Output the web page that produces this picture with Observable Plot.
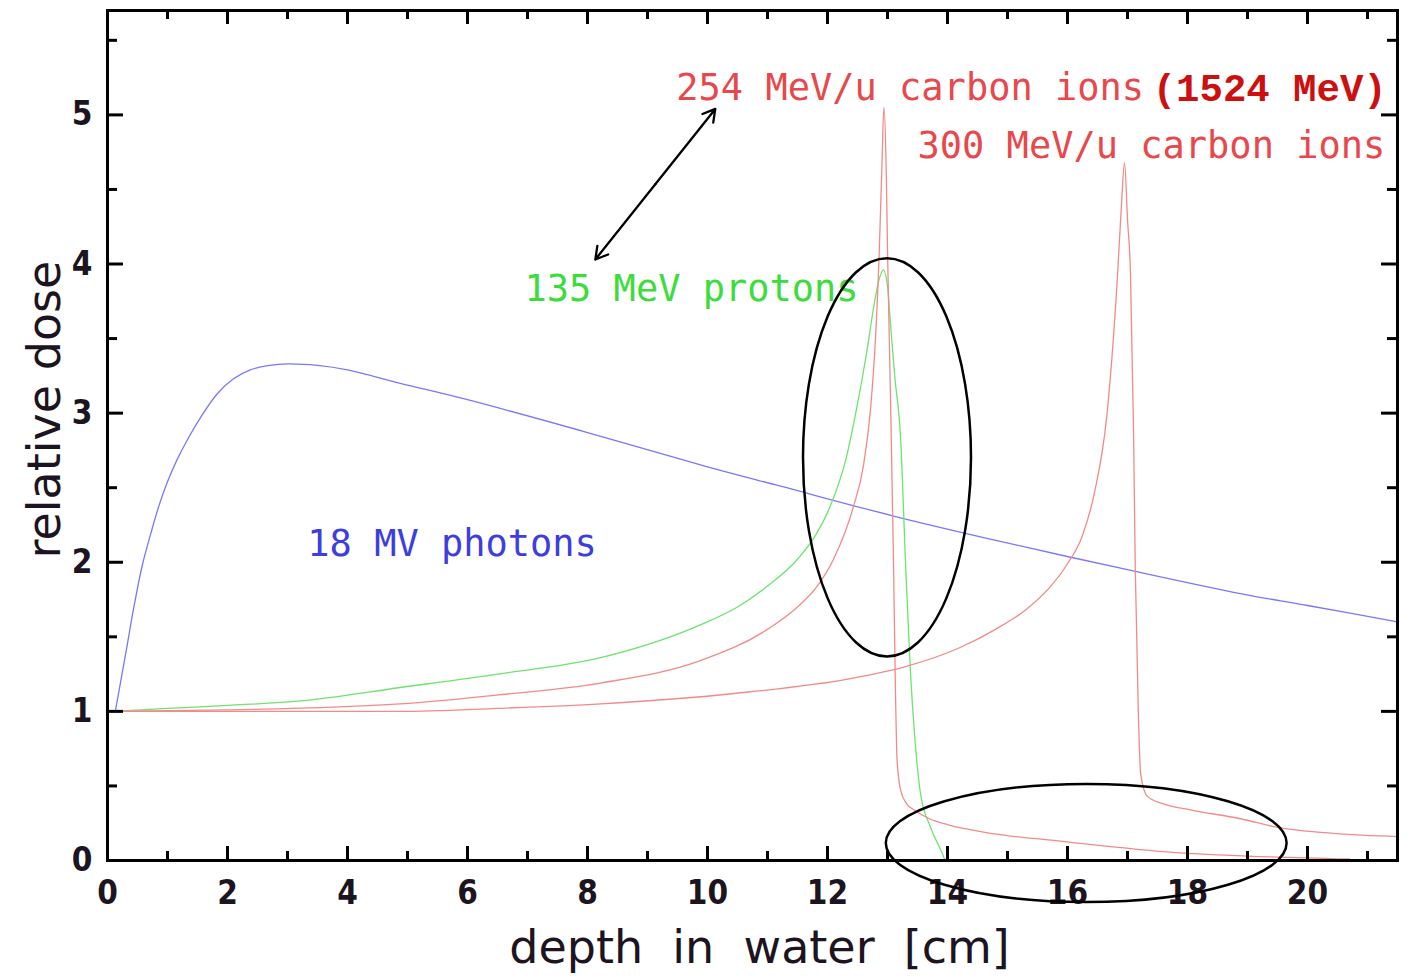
<!DOCTYPE html>
<html>
<head>
<meta charset="utf-8">
<script src="https://cdn.jsdelivr.net/npm/d3@7"></script>
<script src="https://cdn.jsdelivr.net/npm/@observablehq/plot@0.6"></script>
<style>
  html, body { margin: 0; padding: 0; background: #ffffff; }
  #chart svg { display: block; }
</style>
</head>
<body>
<div id="chart"></div>
<script>
// ---------- tick values ----------
const xMajorTicks = [0, 2, 4, 6, 8, 10, 12, 14, 16, 18, 20];
const xMinorTicks = [1, 3, 5, 7, 9, 11, 13, 15, 17, 19, 21];
const yMajorTicks = [0, 1, 2, 3, 4, 5];
const yMinorTicks = [0.5, 1.5, 2.5, 3.5, 4.5, 5.5];

// ---------- series: 18 MV photons ----------
const photonX = [0.13, 0.3, 0.44, 0.58, 0.72, 0.85, 0.99, 1.15, 1.33, 1.55, 1.83, 2.1, 2.38, 2.7, 3.0, 3.5, 4.0, 4.88, 6.0, 8.0, 10.0, 11.22, 13.1, 14.88, 17.0, 18.88, 20.0, 21.5];
const photonY = [1.0, 1.38, 1.70, 1.98, 2.19, 2.37, 2.53, 2.68, 2.82, 2.97, 3.13, 3.23, 3.29, 3.32, 3.33, 3.32, 3.29, 3.20, 3.09, 2.87, 2.64, 2.51, 2.31, 2.14, 1.95, 1.79, 1.71, 1.60];

// ---------- series: 135 MeV protons ----------
const protonX = [0.1, 1.0, 2.0, 3.22, 4.88, 6.5, 8.22, 9.88, 10.5, 11.0, 11.5, 11.8, 12.05, 12.3, 12.49, 12.65, 12.77, 12.85, 12.93, 13.0, 13.05, 13.12, 13.22, 13.3, 13.38, 13.46, 13.55, 13.72, 13.91, 13.96];
const protonY = [1.0, 1.02, 1.04, 1.07, 1.16, 1.25, 1.36, 1.58, 1.70, 1.84, 2.02, 2.18, 2.38, 2.68, 3.04, 3.40, 3.71, 3.88, 3.96, 3.85, 3.60, 3.25, 2.82, 2.0, 1.28, 0.80, 0.45, 0.22, 0.05, 0.0];

// ---------- series: 254 MeV/u carbon ions ----------
const carbon254X = [0.1, 2.0, 4.88, 6.5, 8.22, 9.88, 11.0, 11.5, 11.83, 12.1, 12.43, 12.6, 12.72, 12.8, 12.86, 12.91, 12.94, 12.98, 13.0, 13.05, 13.1, 13.13, 13.16, 13.22, 13.32, 13.44, 13.7, 14.0, 14.76, 15.88, 16.8, 17.75, 19.0, 20.7];
const carbon254Y = [1.0, 1.01, 1.05, 1.11, 1.19, 1.34, 1.55, 1.70, 1.84, 2.02, 2.37, 2.65, 3.04, 3.50, 4.05, 4.70, 5.05, 4.60, 4.10, 3.10, 2.0, 1.20, 0.67, 0.47, 0.38, 0.34, 0.28, 0.24, 0.18, 0.13, 0.09, 0.055, 0.03, 0.01];

// ---------- series: 300 MeV/u carbon ions ----------
const carbon300X = [0.1, 2.0, 4.88, 6.5, 8.22, 10.44, 12.38, 13.3, 14.22, 14.8, 15.3, 15.7, 16.0, 16.25, 16.44, 16.66, 16.83, 16.9, 16.95, 17.0, 17.05, 17.1, 17.13, 17.18, 17.22, 17.33, 17.6, 18.05, 18.88, 19.53, 20.5, 21.5];
const carbon300Y = [1.0, 1.0, 1.0, 1.02, 1.05, 1.12, 1.22, 1.30, 1.43, 1.55, 1.68, 1.83, 1.99, 2.18, 2.45, 3.0, 3.90, 4.40, 4.68, 4.30, 3.93, 2.90, 1.95, 1.0, 0.58, 0.43, 0.38, 0.34, 0.28, 0.22, 0.18, 0.16];

// ---------- annotations ----------
const labelTexts = ["254 MeV/u carbon ions", "300 MeV/u carbon ions", "135 MeV protons", "18 MV photons"];
const labelX = [9.48, 13.5, 6.95, 3.33];
const labelY = [5.18, 4.79, 3.83, 2.12];
const labelColors = ["#e8474b", "#e8474b", "#3ddc3d", "#3d3de0"];
const extraText = ["(1524 MeV)"];
const extraX = [17.42];
const extraY = [5.18];

const arrowStart = [8.13, 4.03];
const arrowEnd = [10.13, 5.04];

const ellipseCX = [13.0, 16.32];
const ellipseCY = [2.70, 0.114];
const ellipseRX = [1.40, 3.34];
const ellipseRY = [1.335, 0.396];

const xTitle = "depth\u00a0 in\u00a0 water\u00a0 [cm]";
const yTitle = "relative dose";

// ---------- build tables ----------
const zip = (xs, ys) => xs.map((x, i) => ({x, y: ys[i]}));
const photons = zip(photonX, photonY);
const protons = zip(protonX, protonY);
const c254 = zip(carbon254X, carbon254Y);
const c300 = zip(carbon300X, carbon300Y);
const labels = labelTexts.map((t, i) => ({t, x: labelX[i], y: labelY[i], c: labelColors[i]}));
const extras = extraText.map((t, i) => ({t, x: extraX[i], y: extraY[i]}));
const mid = [(arrowStart[0] + arrowEnd[0]) / 2, (arrowStart[1] + arrowEnd[1]) / 2];

const W = 1409, H = 976;
const mL = 107, mR = 12, mT = 10, mB = 116;
const innerW = W - mL - mR, innerH = H - mT - mB;

const monoFont = "'DejaVu Sans Mono', 'Liberation Mono', monospace";
const tickFont = "'DejaVu Sans Condensed', 'DejaVu Sans', sans-serif";

const ellipseMark = (index, scales) => {
  const g = d3.create("svg:g");
  for (let i = 0; i < ellipseCX.length; i++) {
    const cx = scales.x(ellipseCX[i]);
    const cy = scales.y(ellipseCY[i]);
    const rx = Math.abs(scales.x(ellipseCX[i] + ellipseRX[i]) - cx);
    const ry = Math.abs(scales.y(ellipseCY[i] + ellipseRY[i]) - cy);
    g.append("ellipse")
      .attr("cx", cx).attr("cy", cy).attr("rx", rx).attr("ry", ry)
      .attr("fill", "none").attr("stroke", "#000").attr("stroke-width", 2.5);
  }
  return g.node();
};

const tickStroke = {stroke: "#000", strokeWidth: 3};

const chart = Plot.plot({
  width: W,
  height: H,
  marginLeft: mL,
  marginRight: mR,
  marginTop: mT,
  marginBottom: mB,
  x: {domain: [0, 21.5]},
  y: {domain: [0, 5.7]},
  style: {background: "#fff", overflow: "visible"},
  marks: [
    // curves
    Plot.line(photons, {x: "x", y: "y", stroke: "#7878ff", strokeWidth: 1.3, curve: "catmull-rom"}),
    Plot.line(protons, {x: "x", y: "y", stroke: "#6ee36e", strokeWidth: 1.3, curve: "monotone-x"}),
    Plot.line(c254, {x: "x", y: "y", stroke: "#f28a8a", strokeWidth: 1.3, curve: "monotone-x"}),
    Plot.line(c300, {x: "x", y: "y", stroke: "#f28a8a", strokeWidth: 1.3, curve: "monotone-x"}),

    // inward ticks: bottom & top
    Plot.tickX(xMajorTicks, {x: d => d, insetTop: innerH - 14, ...tickStroke}),
    Plot.tickX(xMinorTicks, {x: d => d, insetTop: innerH - 9, ...tickStroke}),
    Plot.tickX(xMajorTicks, {x: d => d, insetBottom: innerH - 14, ...tickStroke}),
    Plot.tickX(xMinorTicks, {x: d => d, insetBottom: innerH - 9, ...tickStroke}),
    // inward ticks: left & right
    Plot.tickY(yMajorTicks, {y: d => d, insetRight: innerW - 16, ...tickStroke}),
    Plot.tickY(yMinorTicks, {y: d => d, insetRight: innerW - 10, ...tickStroke}),
    Plot.tickY(yMajorTicks, {y: d => d, insetLeft: innerW - 16, ...tickStroke}),
    Plot.tickY(yMinorTicks, {y: d => d, insetLeft: innerW - 10, ...tickStroke}),

    Plot.frame({stroke: "#000", strokeWidth: 3}),

    // tick labels
    Plot.axisX(xMajorTicks, {tickSize: 0, tickPadding: 20, tickFormat: d => String(d), fontSize: 33, fontWeight: "bold", fontFamily: tickFont, fill: "#1c1420", label: null}),
    Plot.axisY(yMajorTicks, {tickSize: 0, tickPadding: 15, tickFormat: d => String(d), fontSize: 33, fontWeight: "bold", fontFamily: tickFont, fill: "#1c1420", label: null}),

    // axis titles
    Plot.text([xTitle], {text: d => d, frameAnchor: "bottom", dx: 7, dy: 88, fontSize: 46, fontFamily: "'DejaVu Sans', sans-serif", fill: "#1c1420", lineAnchor: "middle", textAnchor: "middle"}),
    Plot.text([yTitle], {text: d => d, frameAnchor: "left", dx: -62, dy: -26, rotate: -90, fontSize: 46, fontFamily: "'DejaVu Sans', sans-serif", fill: "#1c1420", lineAnchor: "middle", textAnchor: "middle"}),

    // series labels
    Plot.text(labels, {x: "x", y: "y", text: "t", fill: "c", textAnchor: "start", lineAnchor: "middle", fontSize: 37, fontFamily: monoFont}),
    Plot.text(extras, {x: "x", y: "y", text: "t", fill: "#cc1010", textAnchor: "start", lineAnchor: "middle", fontSize: 39, fontWeight: "bold", fontFamily: "'Liberation Mono', 'DejaVu Sans Mono', monospace"}),

    // double-headed arrow
    Plot.arrow([0], {x1: () => mid[0], y1: () => mid[1], x2: () => arrowEnd[0], y2: () => arrowEnd[1], stroke: "#000", strokeWidth: 2.3, headLength: 9}),
    Plot.arrow([0], {x1: () => mid[0], y1: () => mid[1], x2: () => arrowStart[0], y2: () => arrowStart[1], stroke: "#000", strokeWidth: 2.3, headLength: 9}),

    // ellipses
    ellipseMark
  ]
});

document.getElementById("chart").appendChild(chart);
</script>
</body>
</html>
